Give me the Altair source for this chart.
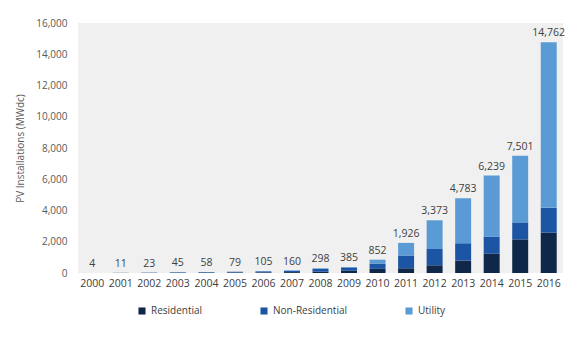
import altair as alt
import pandas as pd

years = [str(y) for y in range(2000, 2017)]
residential = [2, 5, 10, 15, 20, 27, 38, 55, 82, 164, 264, 304, 494, 792, 1231, 2150, 2583]
non_residential = [2, 6, 13, 30, 38, 52, 67, 95, 194, 191, 336, 816, 1043, 1112, 1094, 1088, 1586]
utility = [0, 0, 0, 0, 0, 0, 0, 10, 22, 30, 252, 806, 1836, 2879, 3914, 4263, 10593]
totals = [4, 11, 23, 45, 58, 79, 105, 160, 298, 385, 852, 1926, 3373, 4783, 6239, 7501, 14762]
segments = ["Residential", "Non-Residential", "Utility"]
colors = ["#0f2748", "#1c55a3", "#5b9bd5"]

rows = []
for i, y in enumerate(years):
    for s, vals in zip(segments, [residential, non_residential, utility]):
        rows.append({"year": y, "segment": s, "value": vals[i], "order": segments.index(s)})
df = pd.DataFrame(rows)
tot = pd.DataFrame({"year": years, "total": totals})

font = "Open Sans"

x = alt.X("year:N", title=None, sort=years,
          scale=alt.Scale(paddingInner=0.44, paddingOuter=0.22),
          axis=alt.Axis(labelAngle=0, labelFont=font, labelFontSize=10.5, labelColor="#404040",
                        domain=False, ticks=False, labelPadding=5))

yaxis = alt.Axis(values=list(range(0, 16001, 2000)), format=",.0f", grid=False,
                 domain=False, ticks=False, labelPadding=11, labelFont=font,
                 labelFontSize=10, labelColor="#595959", titleFont=font,
                 titleFontSize=10, titleFontWeight="normal", titleColor="#595959",
                 titlePadding=10)
yscale = alt.Scale(domain=[0, 16000], nice=False)

bg = alt.Chart(tot).mark_rect(color="#f0f0f0").encode(
    x=alt.value(0), x2=alt.value(485), y=alt.value(0), y2=alt.value(250)
)

bars = alt.Chart(df).mark_bar().encode(
    x=x,
    y=alt.Y("value:Q", stack="zero", title="PV Installations (MWdc)", scale=yscale, axis=yaxis),
    color=alt.Color("segment:N", sort=segments,
                    scale=alt.Scale(domain=segments, range=colors),
                    legend=alt.Legend(title=None, orient="none", legendX=59, legendY=283,
                                      direction="horizontal", columnPadding=56,
                                      symbolType="square", symbolSize=50, symbolStrokeWidth=0,
                                      labelFont=font, labelFontSize=10, labelColor="#404040",
                                      labelOffset=4)),
    order=alt.Order("order:Q"),
)

labels = alt.Chart(tot).mark_text(dy=-9, font=font, fontSize=10.5, color="#404040").encode(
    x=alt.X("year:N", sort=years),
    y=alt.Y("total:Q", title="PV Installations (MWdc)", scale=yscale, axis=yaxis),
    text=alt.Text("total:Q", format=",.0f"),
)

chart = alt.layer(bg, bars, labels).properties(
    width=485, height=250,
    autosize=alt.AutoSizeParams(type="none"),
    padding={"left": 70, "top": 15, "right": 10, "bottom": 83},
    background="white",
).configure_view(stroke=None)

chart.save("out.html", embed_options={"renderer": "svg", "actions": False})
